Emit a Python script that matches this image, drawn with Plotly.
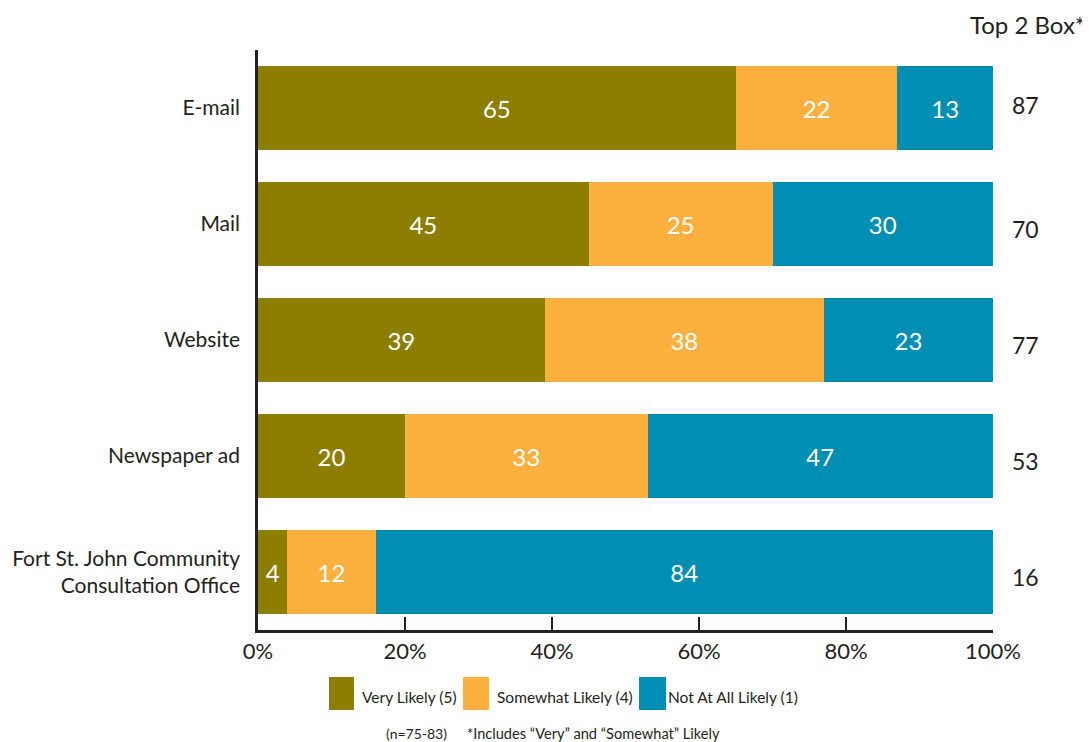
import plotly.graph_objects as go

# survey channels, top to bottom
channels = ["E-mail", "Mail", "Website", "Newspaper ad",
            "Fort St. John Community<br>Consultation Office"]

very_likely = [65, 45, 39, 20, 4]
somewhat_likely = [22, 25, 38, 33, 12]
not_likely = [13, 30, 23, 47, 84]
top2_box = [87, 70, 77, 53, 16]

tick_vals = [0, 20, 40, 60, 80, 100]
tick_text = ["0%", "20%", "40%", "60%", "80%", "100%"]

series_names = ["Very Likely (5)", "Somewhat Likely (4)", "Not At All Likely (1)"]
colors = ["#8C7E00", "#FBB040", "#008FB2"]

font_name = "Lato"
dark = "#231F20"

# page has an 8px body margin, so work in page pixels minus 8
W, H = 1082, 734
L, R, T, B = 250, 985, 42, 622   # plot area in figure pixels

fig = go.Figure()
for name, vals, col in zip(series_names, [very_likely, somewhat_likely, not_likely], colors):
    fig.add_trace(go.Bar(
        x=vals, y=channels, name=name, orientation="h",
        marker=dict(color=col, line=dict(width=0)),
        text=vals, texttemplate="%{text}", textposition="inside",
        insidetextanchor="middle", textangle=0,
        insidetextfont=dict(color="white", size=24, family=font_name),
        showlegend=False,
    ))

fig.update_layout(
    barmode="stack", bargap=0.28,
    width=W, height=H,
    margin=dict(l=L, r=W - R, t=T, b=H - B, pad=0),
    plot_bgcolor="white", paper_bgcolor="white",
    font=dict(family=font_name, color=dark, size=21),
    uniformtext=dict(minsize=20, mode="show"),
)

fig.update_xaxes(
    range=[0, 100], tickvals=tick_vals, ticktext=tick_text,
    showgrid=False, zeroline=False, automargin=False,
    showline=True, linecolor=dark, linewidth=2.5,
    ticks="inside", ticklen=13, tickwidth=2, tickcolor=dark,
    tickfont=dict(size=22, color=dark),
)
fig.update_yaxes(
    autorange="reversed", showgrid=False, zeroline=False, automargin=False,
    showline=True, linecolor=dark, linewidth=2.5,
    ticks="", ticklabelstandoff=11,
    tickfont=dict(size=21, color=dark),
)

plot_w, plot_h = float(R - L), float(B - T)
def px_x(p):
    return (p - 8 - L) / plot_w
def px_y(p):
    return (B - (p - 8)) / plot_h

# top 2 box column (first value sits a bit high in the original)
for i, (ch, v) in enumerate(zip(channels, top2_box)):
    fig.add_annotation(x=px_x(1025), y=ch, xref="paper", yref="y", text=str(v),
                       showarrow=False, font=dict(size=23, color=dark),
                       xanchor="center", yshift=3 if i == 0 else -5)
fig.add_annotation(x=px_x(1087), y=px_y(25), xref="paper", yref="paper",
                   text="Top 2 Box*", showarrow=False,
                   font=dict(size=24, color=dark),
                   xanchor="right", yanchor="middle")

# custom legend below the chart
legend_boxes = [(329, 354), (463, 489), (639, 666)]
legend_text_x = [363, 498, 669]
for (x0, x1), tx, name, col in zip(legend_boxes, legend_text_x, series_names, colors):
    fig.add_shape(type="rect", xref="paper", yref="paper",
                  x0=px_x(x0), x1=px_x(x1), y0=px_y(710), y1=px_y(677),
                  fillcolor=col, line=dict(width=0))
    fig.add_annotation(x=px_x(tx), y=px_y(697), xref="paper", yref="paper",
                       text=name, showarrow=False, xanchor="left", yanchor="middle",
                       xshift=-3, font=dict(size=15.5, color=dark))

fig.add_annotation(x=px_x(387), y=px_y(733), xref="paper", yref="paper",
                   text="(n=75-83)", showarrow=False, xanchor="left", yanchor="middle",
                   xshift=-3, font=dict(size=14, color=dark))
fig.add_annotation(x=px_x(468), y=px_y(733), xref="paper", yref="paper",
                   text="*Includes \u201cVery\u201d and \u201cSomewhat\u201d Likely",
                   showarrow=False, xanchor="left", yanchor="middle",
                   xshift=-3, font=dict(size=14.6, color=dark))

fig.write_html("out.html")
